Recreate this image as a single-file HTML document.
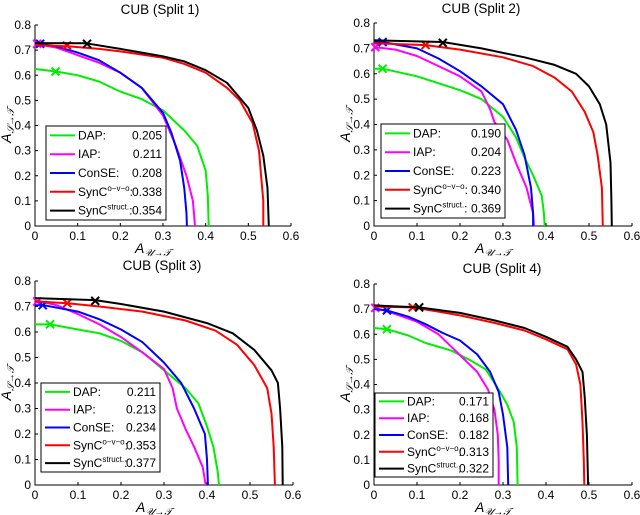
<!DOCTYPE html>
<html><head><meta charset="utf-8"><style>
body{margin:0;background:#fff;width:640px;height:515px;overflow:hidden}
svg{display:block}
text{font-family:"Liberation Sans","DejaVu Sans",sans-serif;fill:#000}
</style></head><body>
<svg id="chart" width="640" height="515" viewBox="0 0 640 515"></svg>
<script>
const titles=["CUB (Split 1)","CUB (Split 2)","CUB (Split 3)","CUB (Split 4)"];
const seriesNames=["DAP","IAP","ConSE","SynC o-v-o","SynC struct"];
const colors=["#00ee00","#ff00ff","#0000ff","#ff0000","#000000"];
const xTicks=[0,0.1,0.2,0.3,0.4,0.5,0.6];
const yTicks=[0,0.1,0.2,0.3,0.4,0.5,0.6,0.7,0.8];
const legendValues=[["0.205","0.211","0.208","0.338","0.354"],["0.190","0.204","0.223","0.340","0.369"],["0.211","0.213","0.234","0.353","0.377"],["0.171","0.168","0.182","0.313","0.322"]];
// curves: [plot][series] = x arrays / y arrays
const curveX=[
[[0,0.05,0.1,0.15,0.2,0.25,0.3,0.35,0.38,0.4,0.405,0.407],
 [0,0.05,0.1,0.15,0.2,0.25,0.3,0.33,0.355,0.37,0.375],
 [0.01,0.05,0.1,0.15,0.2,0.25,0.3,0.32,0.34,0.35,0.355,0.356],
 [0,0.08,0.15,0.2,0.3,0.35,0.4,0.45,0.48,0.51,0.525,0.53,0.535,0.535],
 [0,0.12,0.2,0.3,0.35,0.4,0.45,0.5,0.52,0.535,0.545,0.548]],
[[0,0.02,0.1,0.2,0.25,0.3,0.33,0.35,0.37,0.39,0.395,0.397],
 [0,0.05,0.1,0.15,0.2,0.25,0.27,0.28,0.31,0.33,0.355,0.37,0.372],
 [0,0.02,0.1,0.15,0.2,0.25,0.3,0.33,0.35,0.365,0.37,0.37],
 [0,0.12,0.2,0.3,0.37,0.42,0.46,0.49,0.51,0.52,0.53,0.532],
 [0,0.16,0.25,0.35,0.42,0.47,0.5,0.525,0.54,0.55,0.552,0.553]],
[[0,0.035,0.1,0.15,0.2,0.25,0.3,0.35,0.38,0.4,0.415,0.425,0.428],
 [0,0.05,0.1,0.15,0.2,0.25,0.3,0.32,0.33,0.35,0.37,0.39,0.397],
 [0,0.02,0.1,0.15,0.2,0.25,0.3,0.34,0.37,0.395,0.4,0.402],
 [0,0.075,0.15,0.25,0.35,0.42,0.47,0.51,0.54,0.55,0.555,0.558],
 [0,0.14,0.2,0.3,0.4,0.46,0.51,0.55,0.565,0.57,0.575,0.576]],
[[0,0.03,0.08,0.12,0.18,0.22,0.26,0.29,0.31,0.325,0.332,0.334],
 [0,0.05,0.1,0.15,0.18,0.21,0.24,0.265,0.28,0.288,0.29,0.29],
 [0,0.03,0.08,0.12,0.16,0.2,0.24,0.27,0.29,0.3,0.31,0.312],
 [0,0.09,0.15,0.2,0.28,0.35,0.4,0.45,0.47,0.48,0.485,0.488,0.489],
 [0,0.105,0.2,0.28,0.35,0.4,0.45,0.47,0.485,0.49,0.495,0.498]]];
const curveY=[
[[0.625,0.615,0.6,0.575,0.535,0.505,0.46,0.38,0.32,0.22,0.12,0],
 [0.725,0.71,0.68,0.65,0.61,0.55,0.44,0.32,0.2,0.1,0],
 [0.725,0.715,0.69,0.66,0.61,0.55,0.45,0.37,0.26,0.15,0.05,0],
 [0.72,0.715,0.705,0.695,0.67,0.645,0.61,0.55,0.5,0.41,0.3,0.2,0.1,0],
 [0.728,0.727,0.705,0.675,0.655,0.62,0.57,0.47,0.38,0.28,0.15,0]],
[[0.62,0.62,0.59,0.535,0.5,0.43,0.35,0.27,0.2,0.12,0.05,0],
 [0.705,0.695,0.67,0.63,0.59,0.53,0.46,0.41,0.34,0.25,0.15,0.05,0],
 [0.725,0.725,0.7,0.66,0.61,0.55,0.48,0.38,0.28,0.15,0.05,0],
 [0.72,0.713,0.695,0.665,0.63,0.585,0.53,0.45,0.37,0.28,0.15,0],
 [0.732,0.725,0.7,0.665,0.635,0.6,0.55,0.48,0.4,0.25,0.1,0]],
[[0.63,0.63,0.61,0.595,0.565,0.52,0.45,0.38,0.32,0.23,0.15,0.05,0],
 [0.725,0.705,0.67,0.63,0.58,0.52,0.455,0.38,0.3,0.22,0.15,0.07,0],
 [0.705,0.705,0.68,0.65,0.61,0.56,0.48,0.4,0.3,0.2,0.1,0],
 [0.72,0.713,0.7,0.68,0.645,0.605,0.55,0.47,0.38,0.28,0.15,0],
 [0.733,0.725,0.71,0.68,0.635,0.595,0.53,0.45,0.4,0.3,0.15,0]],
[[0.625,0.62,0.595,0.565,0.535,0.5,0.46,0.38,0.32,0.25,0.15,0],
 [0.707,0.68,0.65,0.6,0.55,0.5,0.45,0.38,0.3,0.2,0.1,0],
 [0.7,0.695,0.67,0.64,0.605,0.575,0.52,0.45,0.37,0.28,0.15,0],
 [0.71,0.707,0.69,0.675,0.645,0.615,0.58,0.54,0.48,0.4,0.25,0.1,0],
 [0.715,0.707,0.685,0.655,0.625,0.59,0.55,0.5,0.45,0.35,0.2,0]]];
const markerX=[[0.048,0.005,0.012,0.075,0.122],[0.02,0.003,0.02,0.12,0.16],[0.035,0.005,0.018,0.075,0.14],[0.03,0.003,0.03,0.09,0.105]];
const markerY=[[0.615,0.725,0.725,0.718,0.725],[0.62,0.705,0.725,0.713,0.722],[0.63,0.72,0.705,0.713,0.722],[0.62,0.705,0.695,0.707,0.707]];

const layouts=[
 {x0:35,x1:291,y0:226,y1:25,lx:46,ly:126,lw:120,lh:94,tx:160,ty:14},
 {x0:374,x1:632,y0:226,y1:23,lx:381,ly:124,lw:124,lh:94,tx:481,ty:13},
 {x0:35,x1:293,y0:485,y1:281,lx:41,ly:383,lw:119,lh:89,tx:162,ty:270},
 {x0:374,x1:632,y0:485,y1:284,lx:375,ly:393,lw:118,lh:84,tx:502,ty:273}];
const NS="http://www.w3.org/2000/svg";
const svg=document.getElementById("chart");
function mk(tag,attrs,parent,txt){const e=document.createElementNS(NS,tag);for(const k in attrs)e.setAttribute(k,attrs[k]);if(txt!==undefined)e.textContent=txt;(parent||svg).appendChild(e);return e;}
layouts.forEach((L,p)=>{
 const g=mk("g",{});
 
 
 const sx=v=>L.x0+(L.x1-L.x0)*v/0.6;
 const sy=v=>L.y0+(L.y1-L.y0)*v/0.8;
 const t=mk("text",{x:L.tx,y:L.ty,"text-anchor":"middle","font-size":"13.5"},g,titles[p]);
 
 
 const ax=mk("path",{d:`M${L.x0} ${L.y1}V${L.y0}H${L.x1}`,stroke:"#000",fill:"none","stroke-width":"1"},g);
 
 
 xTicks.forEach(v=>{const x=sx(v);mk("line",{x1:x,x2:x,y1:L.y0,y2:L.y0-3,stroke:"#000"},g);
  const tl=mk("text",{x:x,y:L.y0+14,"text-anchor":"middle","font-size":"12"},g,String(v));
  
  });
 yTicks.forEach(v=>{const y=sy(v);mk("line",{x1:L.x0,x2:L.x0+3,y1:y,y2:y,stroke:"#000"},g);
  const tl=mk("text",{x:L.x0-4,y:y+4,"text-anchor":"end","font-size":"12"},g,String(v));
  
  });
 const xl=mk("text",{x:(L.x0+L.x1)/2-10,y:L.y0+27,"text-anchor":"middle","font-size":"14","font-family":"Liberation Serif,DejaVu Serif,serif","font-style":"italic"},g);
 
 
 mk("tspan",{},xl,"A");mk("tspan",{"font-size":"10",dy:"3"},xl,"𝒰→𝒯");
 const cy=(L.y0+L.y1)/2;
 const yl=mk("text",{transform:`translate(${L.x0-24},${cy}) rotate(-90)`,"text-anchor":"middle","font-size":"14","font-family":"Liberation Serif,DejaVu Serif,serif","font-style":"italic"},g);
 
 
 mk("tspan",{},yl,"A");mk("tspan",{"font-size":"10",dy:"3"},yl,"𝒮→𝒯");
 for(let s=0;s<5;s++){
  const xs=curveX[p][s],ys=curveY[p][s];
  const d=xs.map((x,i)=>(i?"L":"M")+sx(x).toFixed(1)+" "+sy(ys[i]).toFixed(1)).join("");
  const c=mk("path",{d:d,stroke:colors[s],fill:"none","stroke-width":"2","stroke-linejoin":"round"},g);
  
  
  const mx=sx(markerX[p][s]),my=sy(markerY[p][s]),r=4;
  const m=mk("path",{d:`M${mx-r} ${my-r}L${mx+r} ${my+r}M${mx-r} ${my+r}L${mx+r} ${my-r}`,stroke:colors[s],"stroke-width":"2"},g);
  
  
 }
 const lg=mk("g",{},g);
 
 
 mk("rect",{x:L.lx,y:L.ly,width:L.lw,height:L.lh,fill:"#fff",stroke:"#000","stroke-width":"1"},lg);
 const rh=L.lh/5;
 for(let s=0;s<5;s++){
  const y=L.ly+rh*(s+0.5);
  const e=mk("g",{},lg);
  
  
  mk("line",{x1:L.lx+4,x2:L.lx+29,y1:y,y2:y,stroke:colors[s],"stroke-width":"2"},e);
  const tx=mk("text",{x:L.lx+32,y:y+4,"font-size":"12"},e);
  if(s<3){mk("tspan",{},tx,seriesNames[s]+":");}
  else{mk("tspan",{},tx,"SynC");mk("tspan",{"font-size":"8",dy:"-5"},tx,s==3?"o−v−o":"struct.");mk("tspan",{dy:"5"},tx,":");}
  mk("text",{x:L.lx+L.lw-4,y:y+4,"font-size":"12","text-anchor":"end"},e,legendValues[p][s]);
 }
});
</script>
</body></html>
